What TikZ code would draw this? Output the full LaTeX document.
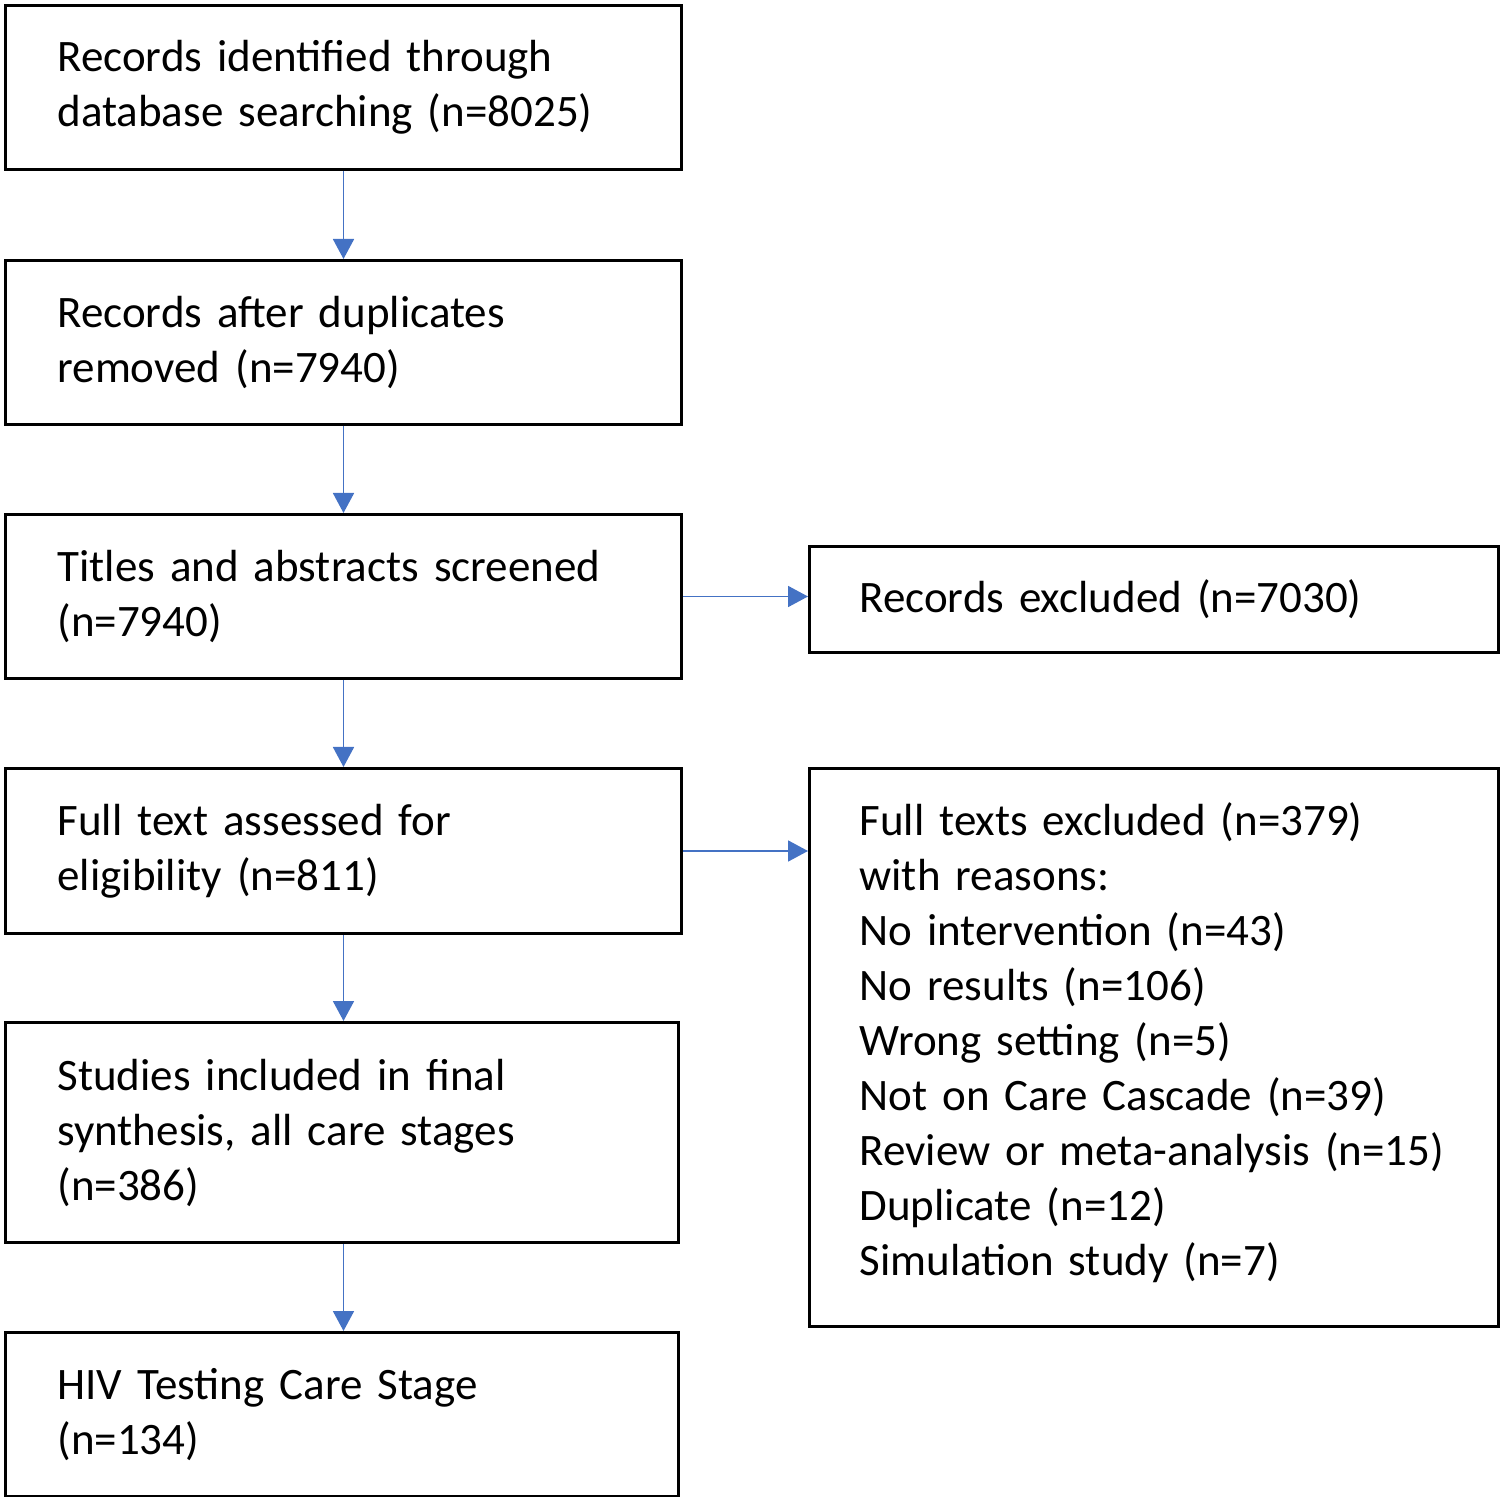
\documentclass[tikz,border=0pt]{standalone}
\usepackage{fontspec}
\setmainfont{Carlito}
\usetikzlibrary{arrows.meta,calc}
\definecolor{arrowblue}{HTML}{4472C4}
\begin{document}
\begin{tikzpicture}[x=0.5pt,y=-0.5pt,
  box/.style={draw=black, line width=1.5pt, anchor=north west, align=left,
    inner xsep=26pt, inner ysep=0pt,
    font=\fontsize{22.5pt}{27.5pt}\selectfont},
  flow/.style={draw=arrowblue, line width=0.9pt, -{Triangle[width=10.5pt,length=10pt]}}]
\useasboundingbox (0,0) rectangle (1500,1497);
\node[box, minimum width=338pt, minimum height=82pt, text width=286pt] (b1) at (4,4)
  {Records identified through\\database searching (n=8025)};
\node[box, minimum width=338pt, minimum height=82pt, text width=286pt] (b2) at (4,259)
  {Records after duplicates\\removed (n=7940)};
\node[box, minimum width=338pt, minimum height=82pt, text width=286pt] (b3) at (4,513)
  {Titles and abstracts screened\\(n=7940)};
\node[box, minimum width=338pt, minimum height=82.5pt, text width=286pt] (b4) at (4,767)
  {Full text assessed for\\eligibility (n=811)};
\node[box, minimum width=336.5pt, minimum height=110pt, text width=284.5pt] (b5) at (4,1021)
  {Studies included in final\\synthesis, all care stages\\(n=386)};
\node[box, minimum width=336.5pt, minimum height=82pt, text width=284.5pt] (b6) at (4,1331)
  {HIV Testing Care Stage\\(n=134)};
\node[box, minimum width=344.5pt, minimum height=53pt, text width=294.5pt, inner xsep=25pt] (r1) at (808,545)
  {Records excluded (n=7030)};
\node[box, minimum width=344.5pt, minimum height=279pt, text width=294.5pt, inner xsep=25pt, yshift=0pt] (r2) at (808,767)
  {Full texts excluded (n=379)\\with reasons:\\No intervention (n=43)\\No results (n=106)\\Wrong setting (n=5)\\Not on Care Cascade (n=39)\\Review or meta-analysis (n=15)\\Duplicate (n=12)\\Simulation study (n=7)\vspace{5pt}};
\draw[flow] (b1.south) -- (b2.north);
\draw[flow] (b2.south) -- (b3.north);
\draw[flow] (b3.south) -- (b4.north);
\draw[flow] (b4.south) -- (b5.north -| b4.south);
\draw[flow] (b5.south -| b4.south) -- (b6.north -| b4.south);
\draw[flow] (b3.east) -- (b3.east -| r1.west);
\draw[flow] (b4.east) -- (b4.east -| r2.west);
\end{tikzpicture}
\end{document}
